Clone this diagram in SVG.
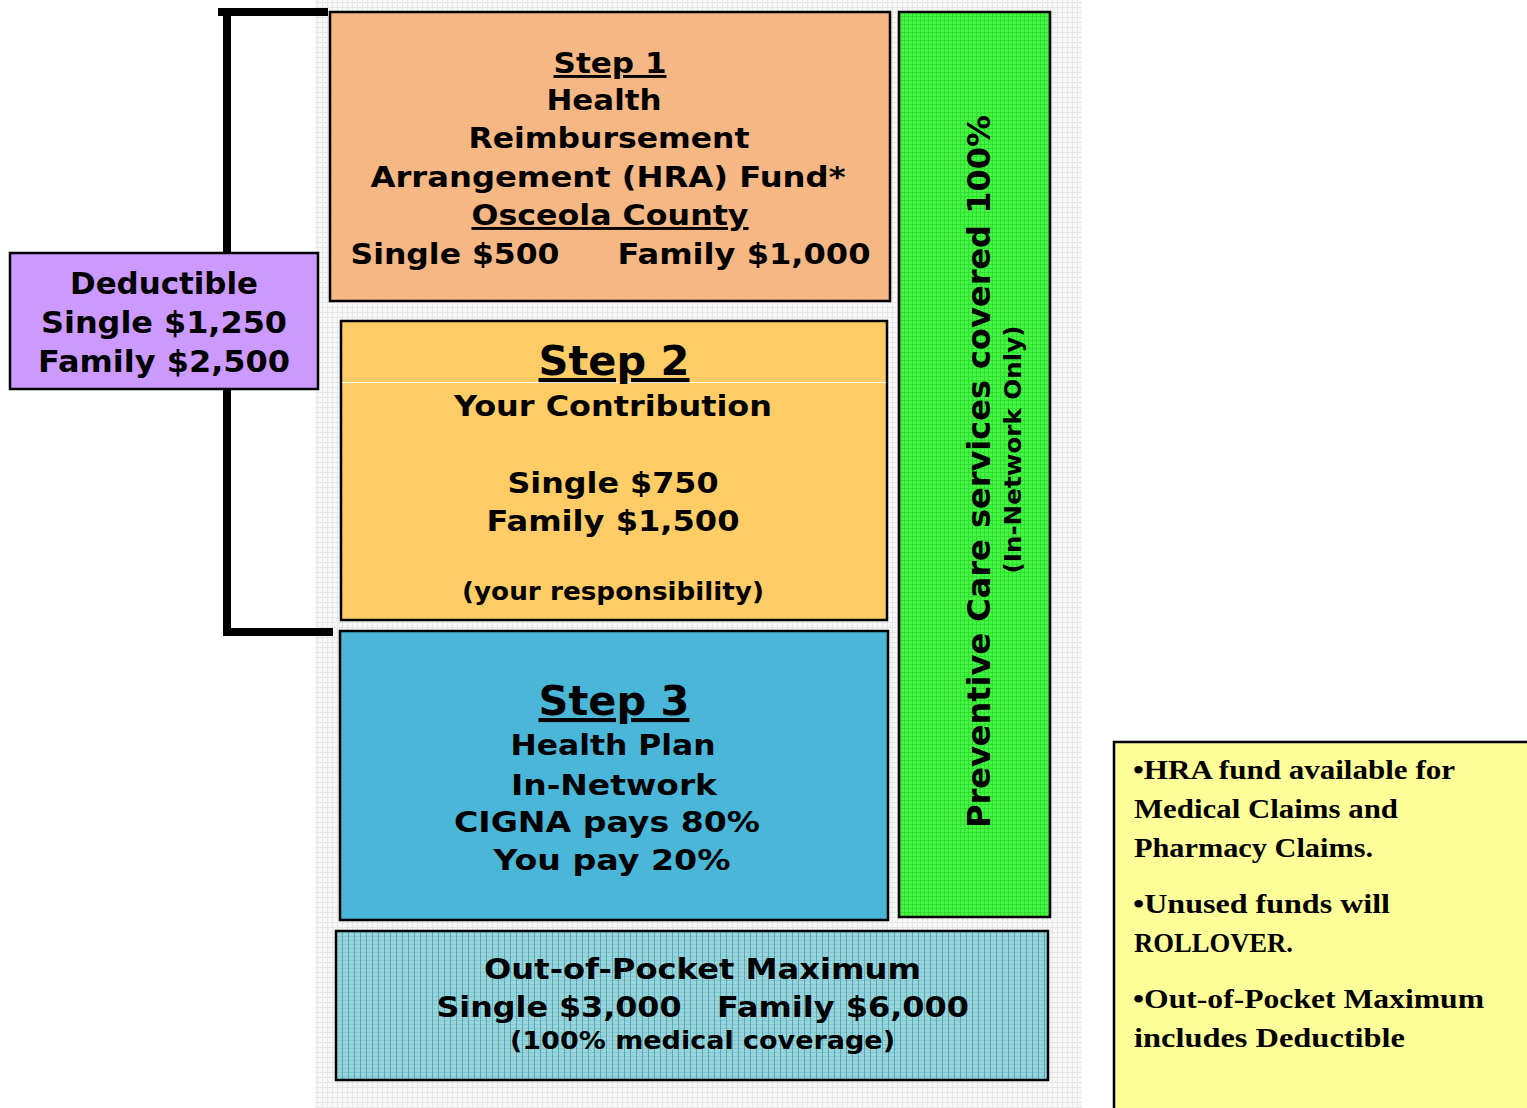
<svg xmlns="http://www.w3.org/2000/svg" width="1527" height="1108" viewBox="0 0 1527 1108">
<defs>
<pattern id="bgpat" width="5" height="5" patternUnits="userSpaceOnUse">
<rect width="5" height="5" fill="#f8f8f8"/>
<rect x="0" y="2" width="5" height="1" fill="#e6e6e6"/>
<rect x="2" y="0" width="1" height="5" fill="#e6e6e6"/>
</pattern>
<pattern id="greenpat" width="4" height="4" patternUnits="userSpaceOnUse">
<rect width="4" height="4" fill="#44f744"/>
<rect x="0" y="0" width="4" height="1" fill="#30dd30"/>
<rect x="0" y="0" width="1" height="4" fill="#30dd30"/>
</pattern>
<pattern id="tealpat" width="6" height="4" patternUnits="userSpaceOnUse">
<rect width="6" height="4" fill="#9ad5dc"/>
<rect x="0" y="0" width="6" height="1" fill="#84c7d0"/>
<rect x="0" y="0" width="1" height="4" fill="#55abb9"/>
</pattern>
<style>
.box{stroke:#000;stroke-width:2.5}
.s{font-family:"DejaVu Sans",Verdana,sans-serif;font-weight:bold;fill:#000;text-anchor:middle}
.f29{font-size:29px}
.f30{font-size:30px}
.h41{font-size:41px;text-decoration:underline}
.u29{font-size:29px;text-decoration:underline}
.f24{font-size:24px}
.n{font-family:"Liberation Serif","Times New Roman",serif;font-weight:bold;font-size:27px;fill:#000}
.br{fill:#000}
</style>
</defs>
<rect x="315" y="0" width="767" height="1108" fill="url(#bgpat)"/>

<g id="connectors">
<rect class="br" x="218" y="8" width="110" height="8"/>
<rect class="br" x="223" y="8" width="8" height="628"/>
<rect class="br" x="223" y="628" width="110" height="8"/>
</g>

<g id="deductible">
<rect class="box" x="10" y="253" width="308" height="136" fill="#cc99ff"/>
<text class="s f30" x="164" y="294" textLength="188" lengthAdjust="spacingAndGlyphs">Deductible</text>
<text class="s f30" x="164" y="333" textLength="246" lengthAdjust="spacingAndGlyphs">Single $1,250</text>
<text class="s f30" x="164" y="372" textLength="252" lengthAdjust="spacingAndGlyphs">Family $2,500</text>
</g>

<g id="step1">
<rect class="box" x="330" y="12" width="560" height="289" fill="#f5b784"/>
<text class="s u29" x="610" y="73" textLength="113" lengthAdjust="spacingAndGlyphs">Step 1</text>
<text class="s f29" x="604" y="110" textLength="115" lengthAdjust="spacingAndGlyphs">Health</text>
<text class="s f29" x="609" y="148" textLength="281" lengthAdjust="spacingAndGlyphs">Reimbursement</text>
<text class="s f29" x="608" y="187" textLength="475" lengthAdjust="spacingAndGlyphs">Arrangement (HRA) Fund*</text>
<text class="s u29" x="610" y="225" textLength="277" lengthAdjust="spacingAndGlyphs">Osceola County</text>
<text class="s f29" x="455" y="264" textLength="209" lengthAdjust="spacingAndGlyphs">Single $500</text>
<text class="s f29" x="744" y="264" textLength="253" lengthAdjust="spacingAndGlyphs">Family $1,000</text>
</g>

<g id="step2">
<rect class="box" x="341" y="321" width="546" height="299" fill="#ffcc66"/>
<line x1="342" y1="382.5" x2="886" y2="382.5" stroke="#ffffff" stroke-width="1"/>
<text class="s h41" x="614" y="375" textLength="151" lengthAdjust="spacingAndGlyphs">Step 2</text>
<text class="s f29" x="613" y="416" textLength="318" lengthAdjust="spacingAndGlyphs">Your Contribution</text>
<text class="s f29" x="613" y="493" textLength="211" lengthAdjust="spacingAndGlyphs">Single $750</text>
<text class="s f29" x="613" y="531" textLength="253" lengthAdjust="spacingAndGlyphs">Family $1,500</text>
<text class="s f24" x="613" y="600" textLength="302" lengthAdjust="spacingAndGlyphs">(your responsibility)</text>
</g>

<g id="step3">
<rect class="box" x="340" y="631" width="548" height="289" fill="#4ab7d9"/>
<text class="s h41" x="614" y="715" textLength="151" lengthAdjust="spacingAndGlyphs">Step 3</text>
<text class="s f29" x="613" y="755" textLength="205" lengthAdjust="spacingAndGlyphs">Health Plan</text>
<text class="s f29" x="614" y="795" textLength="206" lengthAdjust="spacingAndGlyphs">In-Network</text>
<text class="s f29" x="607" y="832" textLength="306" lengthAdjust="spacingAndGlyphs">CIGNA pays 80%</text>
<text class="s f29" x="612" y="870" textLength="237" lengthAdjust="spacingAndGlyphs">You pay 20%</text>
</g>

<g id="preventive">
<rect class="box" x="899" y="12" width="151" height="905" fill="url(#greenpat)"/>
<text class="s" style="font-size:32px" transform="translate(990,471.5) rotate(-90)" x="0" y="0" textLength="713" lengthAdjust="spacingAndGlyphs">Preventive Care services covered 100%</text>
<text class="s" style="font-size:23px" transform="translate(1021,449.5) rotate(-90)" x="0" y="0" textLength="248" lengthAdjust="spacingAndGlyphs">(In-Network Only)</text>
</g>

<g id="oop">
<rect class="box" x="336" y="931" width="712" height="149" fill="url(#tealpat)"/>
<text class="s f29" x="702.5" y="979" textLength="437" lengthAdjust="spacingAndGlyphs">Out-of-Pocket Maximum</text>
<text class="s f29" x="559" y="1017" textLength="245" lengthAdjust="spacingAndGlyphs">Single $3,000</text>
<text class="s f29" x="843" y="1017" textLength="252" lengthAdjust="spacingAndGlyphs">Family $6,000</text>
<text class="s f24" x="702.5" y="1049" textLength="385" lengthAdjust="spacingAndGlyphs">(100% medical coverage)</text>
</g>

<g id="notes">
<rect class="box" x="1114" y="742" width="420" height="380" fill="#ffff99"/>
<text class="n" x="1133" y="779" textLength="322" lengthAdjust="spacingAndGlyphs">•HRA fund available for</text>
<text class="n" x="1134" y="818" textLength="264" lengthAdjust="spacingAndGlyphs">Medical Claims and</text>
<text class="n" x="1134" y="857" textLength="239" lengthAdjust="spacingAndGlyphs">Pharmacy Claims.</text>
<text class="n" x="1133" y="913" textLength="257" lengthAdjust="spacingAndGlyphs">•Unused funds will</text>
<text class="n" x="1134" y="952" textLength="159" lengthAdjust="spacingAndGlyphs">ROLLOVER.</text>
<text class="n" x="1133" y="1008" textLength="351" lengthAdjust="spacingAndGlyphs">•Out-of-Pocket Maximum</text>
<text class="n" x="1134" y="1047" textLength="271" lengthAdjust="spacingAndGlyphs">includes Deductible</text>
</g>
</svg>
